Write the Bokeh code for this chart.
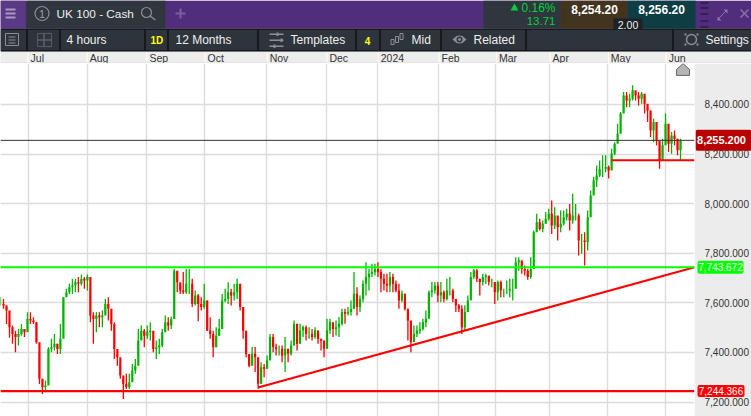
from bokeh.core.properties import value
from bokeh.embed import file_html
from bokeh.resources import INLINE
from bokeh.plotting import figure
from bokeh.models import (ColumnDataSource, FixedTicker, Grid, LinearAxis, NumeralTickFormatter,
                          Span, Range1d)

INSTRUMENT = "UK 100 - Cash"
MONTH_LABELS = ["Jul", "Aug", "Sep", "Oct", "Nov", "Dec", "2024", "Feb", "Mar", "Apr", "May", "Jun"]
MONTH_BARS = [9.2, 28.9, 48.8, 68.2, 88.9, 108.8, 125.9, 146.2, 165.3, 183.2, 202.6, 221.9]
PRICE_TICKS = [7200, 7400, 7600, 7800, 8000, 8200, 8400]

closes = [7596,7589,7569,7502,7475,7462,7475,7495,7482,7535,7529,7522,7441,7294,7260,7267,7414,7421,7435,7414,
 7455,7623,7643,7663,7670,7683,7677,7697,7690,7704,7549,7535,7549,7542,7549,7596,7576,7515,7414,7381,
 7307,7273,7260,7280,7327,7347,7448,7488,7468,7482,7488,7414,7421,7428,7482,7522,7509,7535,7730,7683,
 7650,7643,7677,7677,7596,7630,7596,7583,7610,7488,7475,7421,7468,7495,7610,7616,7643,7630,7643,7677,
 7583,7488,7394,7347,7395,7381,7274,7341,7334,7368,7462,7422,7415,7415,7388,7415,7395,7428,7516,7435,
 7489,7502,7475,7475,7462,7489,7455,7448,7415,7489,7522,7495,7502,7516,7563,7556,7563,7576,7637,7583,
 7616,7677,7704,7717,7724,7737,7724,7697,7677,7670,7704,7677,7650,7610,7637,7576,7529,7442,7475,7489,
 7495,7522,7536,7643,7650,7670,7630,7643,7616,7650,7650,7616,7590,7576,7502,7563,7610,7704,7731,7697,
 7684,7704,7710,7684,7684,7643,7684,7650,7650,7650,7657,7657,7764,7771,7737,7730,7704,7737,7885,7925,
 7898,7919,7939,7959,7912,7952,7905,7919,7945,7959,7932,7952,7952,7851,7851,7845,7945,8033,8094,8114,
 8141,8141,8148,8134,8201,8242,8282,8363,8436,8416,8423,8457,8436,8423,8443,8403,8376,8295,8329,8255,
 8174,8235,8322,8242,8275,8262,8215,8255]
highs = [7623,7616,7589,7522,7509,7488,7495,7515,7495,7562,7562,7542,7522,7401,7294,7287,7421,7455,7475,7435,
 7515,7623,7657,7677,7697,7697,7704,7714,7704,7714,7657,7562,7562,7562,7569,7616,7623,7535,7522,7394,
 7354,7294,7314,7314,7354,7374,7495,7509,7495,7509,7522,7455,7448,7455,7495,7549,7542,7545,7737,7724,
 7677,7724,7737,7737,7697,7650,7636,7623,7677,7610,7542,7488,7502,7535,7636,7657,7683,7657,7677,7697,
 7663,7576,7488,7381,7422,7422,7368,7361,7354,7388,7475,7475,7435,7428,7428,7462,7415,7448,7529,7455,
 7516,7509,7509,7502,7495,7502,7475,7455,7448,7536,7536,7516,7529,7543,7576,7576,7583,7610,7724,7663,
 7630,7690,7764,7737,7758,7758,7764,7737,7717,7717,7724,7717,7690,7677,7650,7610,7576,7462,7509,7509,
 7522,7536,7569,7650,7684,7684,7684,7684,7650,7697,7704,7657,7610,7596,7590,7590,7630,7724,7737,7737,
 7697,7717,7717,7704,7697,7684,7690,7690,7657,7690,7697,7697,7784,7784,7771,7751,7737,7784,7892,7959,
 7939,7932,7966,7979,8013,7986,7925,7972,7972,7979,7999,8040,7999,7959,7878,7885,7972,8053,8107,8154,
 8174,8195,8195,8154,8221,8248,8322,8369,8450,8450,8443,8477,8450,8450,8450,8436,8383,8376,8342,8269,
 8248,8262,8363,8269,8289,8295,8262,8262]
lows = [7589,7576,7515,7459,7435,7401,7428,7468,7462,7515,7515,7515,7435,7273,7233,7240,7294,7401,7408,7394,
 7394,7522,7630,7636,7636,7643,7643,7670,7657,7650,7522,7435,7482,7502,7502,7562,7529,7488,7374,7347,
 7294,7213,7253,7253,7314,7314,7388,7455,7421,7455,7448,7401,7374,7394,7421,7488,7488,7495,7569,7643,
 7636,7636,7636,7636,7583,7589,7526,7569,7576,7488,7455,7381,7421,7468,7522,7603,7596,7589,7610,7616,
 7569,7455,7381,7341,7361,7321,7254,7274,7300,7348,7395,7401,7388,7388,7361,7321,7361,7388,7448,7408,
 7448,7462,7448,7455,7448,7455,7435,7408,7381,7422,7475,7462,7469,7462,7509,7516,7549,7549,7576,7549,
 7563,7603,7630,7650,7704,7710,7704,7643,7650,7643,7643,7643,7643,7576,7603,7569,7448,7401,7448,7462,
 7475,7489,7502,7569,7623,7637,7603,7603,7603,7610,7630,7603,7563,7563,7475,7489,7583,7650,7697,7684,
 7630,7670,7677,7670,7663,7596,7610,7623,7623,7636,7623,7610,7737,7730,7717,7710,7693,7697,7798,7898,
 7892,7885,7919,7932,7878,7898,7851,7885,7912,7932,7892,7919,7932,7791,7798,7751,7811,7999,8053,8067,
 8107,8107,8127,8101,8161,8195,8275,8342,8383,8389,8389,8416,8416,8396,8403,8363,8329,8269,8248,8235,
 8141,8195,8255,8208,8201,8235,8195,8177]

BID_LINE = 8255.2
GREEN_LEVEL = 7743.672
RED_LEVEL = 7244.366
SUPPORT_LEVEL = 8175
TREND_BARS = [86, 231.67]
TREND_PRICES = [7259, 7743.672]
SUPPORT_BARS = [204, 231.67]

W, H, HEAD, STRIP = 751, 416, 63, 56
UP, DOWN = "#00b400", "#ff0000"
FONT = value("Liberation Sans")

bars = list(range(len(closes)))
opens = [closes[0]] + closes[:-1]
src = ColumnDataSource(dict(
    x=bars, o=opens, c=closes, h=highs, l=lows,
    col=[UP if c >= o else DOWN for o, c in zip(opens, closes)],
))
price_range = Range1d(7142, 8565)

# ---------- main chart
p = figure(width=W, height=H - HEAD, output_backend="svg", toolbar_location=None,
           x_range=Range1d(0, (W - STRIP) / 3), y_range=price_range,
           min_border_left=0, min_border_right=STRIP, min_border_top=0, min_border_bottom=0,
           x_axis_location=None, y_axis_location=None, background_fill_color="#ffffff",
           border_fill_color="#ececec", outline_line_color=None)
p.styles = {"position": "absolute", "left": "0px", "top": f"{HEAD}px"}
p.grid.visible = False
p.add_layout(Grid(dimension=0, ticker=FixedTicker(ticks=MONTH_BARS), grid_line_color="#dcdcdc", grid_line_width=1.4))
p.add_layout(Grid(dimension=1, ticker=FixedTicker(ticks=PRICE_TICKS), grid_line_color="#dcdcdc", grid_line_width=1.4))
p.add_layout(LinearAxis(ticker=FixedTicker(ticks=PRICE_TICKS), formatter=NumeralTickFormatter(format="0,0.000"),
                        axis_line_color=None, major_tick_line_color=None, minor_tick_line_color=None,
                        major_label_text_font="Liberation Sans", major_label_text_font_size="10px",
                        major_label_text_color="#333333", major_label_standoff=4), "right")

p.segment("x", "h", "x", "l", color="col", line_width=1.3, source=src)
p.segment("x", "o", "x", "c", color="col", line_width=2.2, source=src)
p.add_layout(Span(location=BID_LINE, dimension="width", line_color="#333333", line_width=1))
p.add_layout(Span(location=GREEN_LEVEL, dimension="width", line_color="#00ff00", line_width=2.2))
p.add_layout(Span(location=RED_LEVEL, dimension="width", line_color="#ff0000", line_width=2.2))
p.line(SUPPORT_BARS, [SUPPORT_LEVEL, SUPPORT_LEVEL], line_color="#ff0000", line_width=2.2)
p.line(TREND_BARS, TREND_PRICES, line_color="#ff0000", line_width=2.2)

# ---------- value tags over the right strip
t = figure(width=STRIP, height=H - HEAD, output_backend="svg", toolbar_location=None,
           x_range=Range1d(0, STRIP), y_range=price_range,
           min_border_left=0, min_border_right=0, min_border_top=0, min_border_bottom=0,
           x_axis_location=None, y_axis_location=None, background_fill_alpha=0, border_fill_alpha=0,
           outline_line_color=None)
t.styles = {"position": "absolute", "left": f"{W - STRIP}px", "top": f"{HEAD}px"}
t.grid.visible = False
for price, left, right, high, fill, size, style, tx in (
        (BID_LINE, 0, 56, 21, "#b80000", "11px", "bold", 26),
        (GREEN_LEVEL, 2, 48, 13, "#00ff00", "10px", "normal", 25),
        (RED_LEVEL, 2, 49, 12, "#ff0000", "10px", "normal", 25.5)):
    t.rect(x=[(left + right) / 2], y=[price], width=[right - left], height=[high], height_units="screen",
           fill_color=fill, line_color=None, border_radius=2)
    t.text(x=[tx], y=[price], text=[f"{price:,.3f}"], text_color="#ffffff", text_font=FONT,
           text_font_size=size, text_font_style=style, text_align="center", text_baseline="middle")

# ---------- header rows, drawn in page pixels
h = figure(width=W, height=HEAD, output_backend="svg", toolbar_location=None,
           x_range=Range1d(0, W), y_range=Range1d(HEAD, 0),
           min_border_left=0, min_border_right=0, min_border_top=0, min_border_bottom=0,
           x_axis_location=None, y_axis_location=None, background_fill_color="#ededed",
           border_fill_alpha=0, outline_line_color=None)
h.styles = {"position": "absolute", "left": "0px", "top": "0px"}
h.grid.visible = False


def box(l, top, r, b, color):
    h.quad(left=[l], right=[r], top=[top], bottom=[b], fill_color=color, line_color=None)


def poly(xs, ys, fill=None, line=None, lw=1):
    h.patch(xs, ys, fill_color=fill, fill_alpha=1 if fill else 0, line_color=line, line_width=lw)


def seg(xs, ys, color, lw=1.0):
    h.line(xs, ys, line_color=color, line_width=lw)


def ring(cx, cy, r, line, lw=1.2, fill=None):
    h.circle([cx], [cy], radius=r, fill_color=fill, fill_alpha=1 if fill else 0, line_color=line, line_width=lw)


def label(x, y, text, size=12.0, color="#eeeeee", bold=False, align="left"):
    h.text([x], [y], text=[text], text_font=FONT, text_font_size=f"{size}px", text_color=color,
           text_font_style="bold" if bold else "normal", text_align=align, text_baseline="middle")


box(0, 62, W, HEAD, "#dcdcdc")
box(0, 0, W, 28, "#532d7d")
box(0, 28, W, 51, "#000000")
box(0, 29, W, 50, "#2e343b")
box(0, 0, 25, 28, "#5a3a85")
box(26, 0, 165, 28, "#30363d")
box(483, 0, 560, 28, "#30363d")
box(560, 0, 627, 28, "#43341f")
box(627, 0, 695, 28, "#0f3d44")
for sx in [26, 59, 144, 167, 257, 355, 379, 440, 525, 672]:
    box(sx, 29, sx + 1, 50, "#000000")

for bar, txt in zip(MONTH_BARS, MONTH_LABELS):
    box(bar * 3 - 0.5, 52, bar * 3 + 0.5, 62, "#ffffff")
    label(bar * 3 + 2.5, 57, txt, 10.5, "#333333")

for y in (8, 12, 16):
    box(5, y, 15, y + 2, "#a898c2")
ring(41.5, 13, 7, "#8a8f95")
label(41.5, 13.5, "1", 11, "#9aa0a6", align="center")
label(56, 13.5, INSTRUMENT, 11.8)
ring(146, 12, 5, "#8a8f95")
seg([149.5, 155], [15.5, 19.5], "#8a8f95", 1.5)
box(175, 12, 185, 14, "#7c5ea2")
box(179, 8, 181, 18, "#7c5ea2")
poly([510, 518, 514], [10, 10, 3], "#00d23c")
label(555, 7.5, "0.16%", 12, "#00d23c", align="right")
label(555, 20.5, "13.71", 11.5, "#00d23c", align="right")
label(594, 9, "8,254.20", 12, "#ffffff", True, "center")
label(661, 9, "8,256.20", 12, "#ffffff", True, "center")
box(613, 18, 642, 29, "#1c2228")
label(627.5, 24, "2.00", 10.5, "#eeeeee", align="center")
for y in (2, 7, 13, 20, 26):
    box(700, y, 708, y + 1, "#1c1030")
seg([717, 726], [19, 10], "#8c78a8", 1)
poly([717, 721, 717], [20, 20, 16], "#8c78a8")
poly([727, 723, 727], [9, 9, 13], "#8c78a8")
seg([740, 748], [9, 17], "#8c78a8", 1.2)
seg([748, 740], [9, 17], "#8c78a8", 1.2)

poly([5, 18, 18, 5], [33, 33, 45, 45], None, "#8a8f95", 1)
for y in (36, 39, 42):
    box(8, y, 15, y + 1, "#8a8f95")
poly([37, 51, 51, 37], [33, 33, 46, 46], None, "#555b62", 1)
box(37, 39, 51, 40, "#6f757b")
box(43, 33, 44, 46, "#6f757b")
label(66, 39.5, "4 hours", 12)
label(150, 40, "1D", 10, "#ffff00", True)
label(175, 39.5, "12 Months", 12)
for y, kx in ((33, 276), (39, 280), (45, 273)):
    box(269, y, 283, y + 1.5, "#8a8f95")
    box(kx, y - 1, kx + 2, y + 2.5, "#8a8f95")
label(290, 39.5, "Templates", 12)
label(367, 40, "4", 10, "#ffff00", True, "center")
for cx, top, bot in ((392, 39, 44), (396.5, 36, 42), (401, 33, 39)):
    poly([cx - 1.5, cx + 1.5, cx + 1.5, cx - 1.5], [top, top, bot, bot], None, "#8a8f95", 1)
label(411, 39.5, "Mid", 12)
poly([452, 456, 459, 462, 466, 462, 459, 456], [39, 35.5, 35, 35.5, 39, 42.5, 43, 42.5], "#8a8f95")
ring(459, 39, 2.2, "#2e343b", 1.5, "#8a8f95")
label(473, 39.5, "Related", 12)
ring(691, 39, 5, "#8a8f95", 1.5)
for dx, dy in ((-6, -5), (6, -5), (-6, 5), (6, 5)):
    box(691 + dx - 1, 39 + dy - 1, 691 + dx + 1, 39 + dy + 1, "#8a8f95")
label(705, 39.5, "Settings", 12)

# ---------- marker at the chart's top edge
p.patch([677 / 3, 677 / 3, 683.5 / 3, 690 / 3, 690 / 3], [8517, 8541, 8565, 8541, 8517],
        fill_color="#b5b5b5", line_color="#666666", line_width=1)

open("out.html", "w").write(file_html([p, t, h], INLINE))
